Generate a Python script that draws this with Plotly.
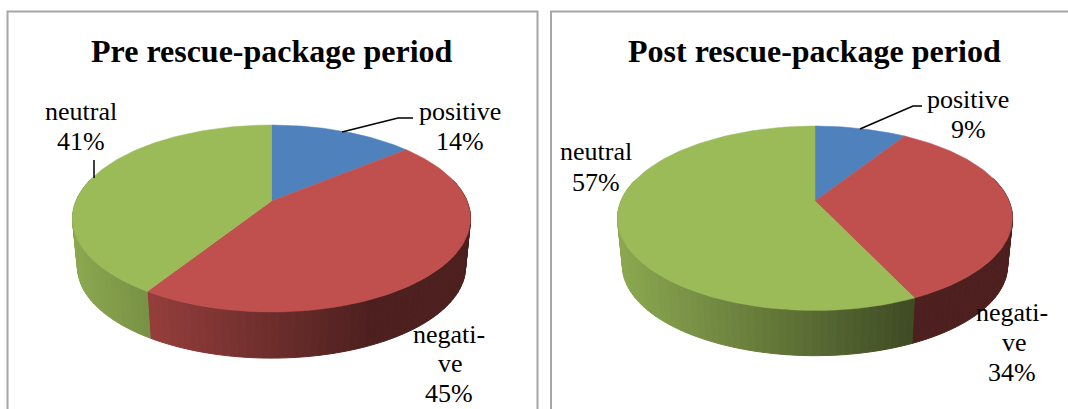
import numpy as np
import plotly.graph_objects as go

categories = ["positive", "negative", "neutral"]
pre_values = [14, 45, 41]
post_values = [9, 34, 57]
titles = ["Pre rescue-package period", "Post rescue-package period"]
colors = [(79, 129, 189), (192, 80, 77), (155, 187, 89)]

FONT = "Liberation Serif"
k = 0.187
fig = go.Figure()


def top_xy(theta, g):
    X, Y = np.sin(theta), np.cos(theta)
    w = 1 + k * Y
    return g["cx"] + g["r"] * X / w, g["cy"] - g["b"] * Y / w


def bottom_xy(theta, g):
    x, y = top_xy(theta, g)
    mid = g["cy"] + g["b"] * k / (1 - k * k)
    return g["cx"] + (x - g["cx"]) * 0.975, mid + (y - mid) * 0.975 + g["depth"]


def rgb(c, f=1.0):
    return "rgb({},{},{})".format(*[int(round(v * f)) for v in c])


def draw_pie(values, g):
    edges = np.cumsum([0] + values) / sum(values) * 2 * np.pi
    # side wall, in thin strips for the horizontal shading
    for i, c in enumerate(colors):
        a0, a1 = edges[i], edges[i + 1]
        n = max(2, int((a1 - a0) / np.radians(2.0)))
        th = np.linspace(a0, a1, n + 1)
        for t0, t1 in zip(th[:-1], th[1:]):
            tm = (t0 + t1) / 2
            if np.cos(tm) > 0.25:
                continue
            xs0, ys0 = top_xy(np.array([t0, t1]), g)
            xs1, ys1 = bottom_xy(np.array([t1, t0]), g)
            xm = (xs0.mean() - (g["cx"] - g["rx"])) / (2 * g["rx"])
            f = max(0.40, 0.90 - 0.667 * xm)
            col = rgb(c, f)
            fig.add_trace(go.Scatter(
                x=list(xs0) + list(xs1) + [xs0[0]], y=list(ys0) + list(ys1) + [ys0[0]],
                mode="lines", fill="toself", fillcolor=col,
                line=dict(color=col, width=1), hoverinfo="skip", showlegend=False))
    # top face
    for i, c in enumerate(colors):
        th = np.linspace(edges[i], edges[i + 1], 120)
        x, y = top_xy(th, g)
        fig.add_trace(go.Scatter(
            x=[g["cx"]] + list(x) + [g["cx"]], y=[g["cy"]] + list(y) + [g["cy"]],
            mode="lines", fill="toself", fillcolor=rgb(c),
            line=dict(color=rgb(c), width=0.5), hoverinfo="skip", showlegend=False))


geo_pre = dict(cx=271.5, cy=201, r=195.5, rx=199, b=90.2, depth=48.5)
geo_post = dict(cx=815, cy=201, r=194, rx=197.5, b=89, depth=47.5)
draw_pie(pre_values, geo_pre)
draw_pie(post_values, geo_post)

# leader lines
for lx, ly in [([342, 398, 413], [132, 118, 118]), ([94, 94], [178, 160]),
               ([860, 913, 922], [129, 106, 106])]:
    fig.add_trace(go.Scatter(x=lx, y=ly, mode="lines", line=dict(color="black", width=1.5),
                             hoverinfo="skip", showlegend=False))

annotations = []


def text(x, y, s, size=26, bold=False):
    annotations.append(dict(x=x, y=y, xref="x", yref="y", text=f"<b>{s}</b>" if bold else s,
                            showarrow=False, xanchor="center", yanchor="middle",
                            font=dict(family=FONT, size=size, color="black")))


text(272, 51, titles[0], size=32, bold=True)
text(814, 51, titles[1], size=32, bold=True)

text(459.5, 111, categories[0])
text(459.5, 141, f"{pre_values[0]}%")
text(81, 111, categories[2])
text(81, 141, f"{pre_values[2]}%")
text(449, 334, "negati-")
text(450, 363.5, "ve")
text(449, 393, f"{pre_values[1]}%")

text(968, 99, categories[0])
text(968, 129, f"{post_values[0]}%")
text(596, 151, categories[2])
text(596, 182, f"{post_values[2]}%")
text(1012, 312, "negati-")
text(1014, 342, "ve")
text(1012, 372, f"{post_values[1]}%")

frames = [dict(type="rect", xref="x", yref="y", x0=x0, x1=x1, y0=11.5, y1=430,
               line=dict(color="#a6a6a6", width=2), layer="below")
          for x0, x1 in [(7.5, 537.5), (551, 1090)]]

fig.update_layout(
    width=1068, height=409, margin=dict(l=0, r=0, t=0, b=0),
    paper_bgcolor="white", plot_bgcolor="white", showlegend=False, hovermode=False,
    xaxis=dict(range=[0, 1068], visible=False, fixedrange=True),
    yaxis=dict(range=[409, 0], visible=False, fixedrange=True),
    annotations=annotations, shapes=frames)

fig.write_html("out.html", config=dict(displayModeBar=False),
               post_script="document.body.style.margin='0';document.body.style.overflow='hidden';")
